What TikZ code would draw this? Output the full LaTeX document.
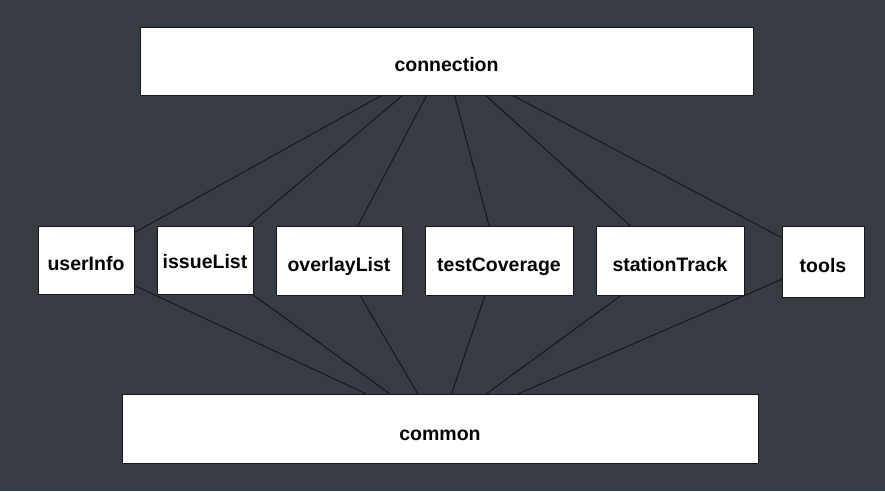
\documentclass[tikz,border=0pt]{standalone}
\usepackage{fontspec}
\setmainfont{Liberation Sans}
\definecolor{bg}{RGB}{55,59,66}
\definecolor{edgecol}{RGB}{20,22,24}
\begin{document}
\begin{tikzpicture}[x=1pt,y=-1pt,
  box/.style={draw=edgecol,line width=0.8pt,fill=white,inner sep=0pt,text height=13pt,text depth=0pt,font=\bfseries\fontsize{19.5}{21}\selectfont,text=black},
  link/.style={draw=edgecol,line width=1pt}]
\fill[bg] (0,0) rectangle (885,491);
\useasboundingbox (0,0) rectangle (885,491);
\node[box,minimum width=613pt,minimum height=68pt] (conn) at (446.5,61) {\raisebox{-4pt}{connection}};
\node[box,minimum width=636pt,minimum height=69pt] (common) at (440,428.5) {\raisebox{-5pt}{common}};
\node[box,minimum width=96pt,minimum height=68pt] (user) at (86,260) {\raisebox{-4pt}{userInfo}};
\node[box,minimum width=96pt,minimum height=68pt] (issue) at (205,260) {\raisebox{-2pt}{issueList}};
\node[box,minimum width=126pt,minimum height=69pt] (overlay) at (339,260.5) {\raisebox{-4pt}{overlayList}};
\node[box,minimum width=148pt,minimum height=69pt] (test) at (499,260.5) {\raisebox{-4pt}{testCoverage}};
\node[box,minimum width=148pt,minimum height=69pt] (station) at (670,260.5) {\raisebox{-4pt}{stationTrack}};
\node[box,minimum width=82pt,minimum height=71pt] (tools) at (823,261.5) {\raisebox{-4pt}{tools}};
% attachment points on connection
\path (conn.south west) ++(242,0) coordinate (c1);
\path (conn.south west) ++(263,0) coordinate (c2);
\path (conn.south west) ++(287,0) coordinate (c3);
\path (conn.south west) ++(315,0) coordinate (c4);
\path (conn.south west) ++(346,0) coordinate (c5);
\path (conn.south west) ++(373,0) coordinate (c6);
% attachment points on the middle row (top)
\path (user.north east) ++(0,7) coordinate (u1);
\path (issue.north east) ++(-5,0) coordinate (i1);
\path (overlay.north) ++(19,0) coordinate (o1);
\path (test.north) ++(-10,0) coordinate (t1);
\path (station.north) ++(-40,0) coordinate (s1);
\path (tools.north west) ++(0,12) coordinate (w1);
\draw[link] (c1) -- (u1);
\draw[link] (c2) -- (i1);
\draw[link] (c3) -- (o1);
\draw[link] (c4) -- (t1);
\draw[link] (c5) -- (s1);
\draw[link] (c6) -- (w1);
% attachment points on common
\path (common.north west) ++(244,0) coordinate (d1);
\path (common.north west) ++(268,0) coordinate (d2);
\path (common.north west) ++(296,0) coordinate (d3);
\path (common.north west) ++(330,0) coordinate (d4);
\path (common.north west) ++(365,0) coordinate (d5);
\path (common.north west) ++(397,0) coordinate (d6);
% attachment points on the middle row (bottom)
\path (user.south east) ++(0,-9) coordinate (u2);
\path (issue.south east) ++(-1,0) coordinate (i2);
\path (overlay.south) ++(21,0) coordinate (o2);
\path (test.south) ++(-14,0) coordinate (t2);
\path (station.south) ++(-49,0) coordinate (s2);
\path (tools.south west) ++(0,-18) coordinate (w2);
\draw[link] (u2) -- (d1);
\draw[link] (i2) -- (d2);
\draw[link] (o2) -- (d3);
\draw[link] (t2) -- (d4);
\draw[link] (s2) -- (d5);
\draw[link] (w2) -- (d6);
\end{tikzpicture}
\end{document}
